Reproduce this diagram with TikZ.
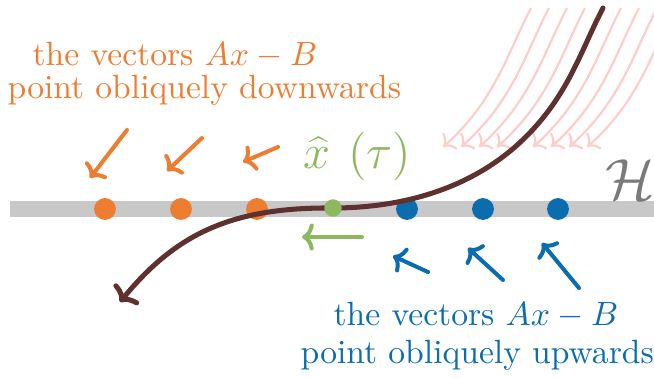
\documentclass[tikz,border=0pt]{standalone}
\usetikzlibrary{arrows.meta}
\definecolor{myorange}{HTML}{ED7D31}
\definecolor{mygreen}{HTML}{8CB860}
\definecolor{myblue}{HTML}{0B6CAE}
\definecolor{mybrown}{HTML}{5E302E}
\definecolor{mygray}{HTML}{C8C8C8}
\definecolor{hgray}{HTML}{7A7A7A}
\definecolor{mypink}{HTML}{FFCCCC}
\tikzset{
  dotnode/.style={circle, inner sep=0pt, minimum size=6.5pt},
  odot/.style={dotnode, fill=myorange},
  bdot/.style={dotnode, fill=myblue},
  gdot/.style={circle, inner sep=0pt, minimum size=5.2pt, fill=mygreen},
  vec/.style={line width=1.2pt, line cap=round, -{Computer Modern Rightarrow[length=3.5pt,width=8pt,line width=1.2pt]}},
  pinkarrow/.style={draw=mypink, line width=0.65pt, -{Computer Modern Rightarrow[length=3pt,width=6.5pt,line width=0.65pt]}},
  txt/.style={inner sep=0pt, anchor=base west},
}
\begin{document}
\begin{tikzpicture}[x=0.2976pt, y=-0.2976pt]
\useasboundingbox (0,0) rectangle (654,377);
\begin{scope}
\clip (0,0) rectangle (654,377);
% pink arrows
\foreach \dx in {-72,-54,-36,-18,18,36,54,72}{
  \draw[pinkarrow] (603+\dx,8) .. controls (579+\dx,54) and (567+\dx,101) .. (515+\dx,147);
}
% bar
\coordinate (barL) at (10,209);
\coordinate (barR) at (654,209);
\draw[mygray, line width=4.5pt] (barL) -- (barR);
% dots
\node[odot] (o1) at (105,209) {};
\node[odot] (o2) at (181,209) {};
\node[odot] (o3) at (257,209) {};
\node[bdot] (b1) at (407,209) {};
\node[bdot] (b2) at (483,209) {};
\node[bdot] (b3) at (558,209) {};
% brown curve
\coordinate (c0) at (603,8);
\coordinate (c1) at (515,147);
\coordinate (c2) at (333,208);
\coordinate (c3) at (120,302);
\draw[mybrown, line width=1.5pt, line cap=round, -{Computer Modern Rightarrow[length=3.7pt,width=9.5pt,line width=1.5pt]}]
  (c0) .. controls (579,54) and (567,101) .. (c1)
       .. controls (455,199) and (380,208) .. (c2)
       .. controls (230,207) and (175,235) .. (c3);
\end{scope}
\node[txt, text=hgray, font=\fontsize{16}{18}\selectfont] (H) at (605,199) {$\mathcal{H}$};
\node[gdot] (g) at (333,208) {};
% orange arrows
\coordinate (ot1) at (127,130); \coordinate (oh1) at (90,178);
\coordinate (ot2) at (202,138); \coordinate (oh2) at (167,171);
\coordinate (ot3) at (278,147); \coordinate (oh3) at (243,162);
\draw[vec, myorange] (ot1) -- (oh1);
\draw[vec, myorange] (ot2) -- (oh2);
\draw[vec, myorange] (ot3) -- (oh3);
% green arrow
\coordinate (gt) at (362,237); \coordinate (gh) at (302,237);
\draw[vec, mygreen] (gt) -- (gh);
% blue arrows
\coordinate (bt1) at (428,272); \coordinate (bh1) at (393,256);
\coordinate (bt2) at (503,280); \coordinate (bh2) at (468,248);
\coordinate (bt3) at (579,288); \coordinate (bh3) at (542,243);
\draw[vec, myblue] (bt1) -- (bh1);
\draw[vec, myblue] (bt2) -- (bh2);
\draw[vec, myblue] (bt3) -- (bh3);
% labels
\node[txt, text=mygreen, font=\Large] (xl) at (303,168) {$\widehat{x\mkern1mu}\hspace{4.5pt}(\tau)$};
\node[txt, text=myorange] (ol1) at (32,65) {the vectors $Ax-B$};
\node[txt, text=myorange] (ol2) at (7,98) {point obliquely downwards};
\node[txt, text=myblue] (bl1) at (333,325) {the vectors $Ax-B$};
\node[txt, text=myblue] (bl2) at (300,363) {point obliquely upwards};
\end{tikzpicture}
\end{document}
